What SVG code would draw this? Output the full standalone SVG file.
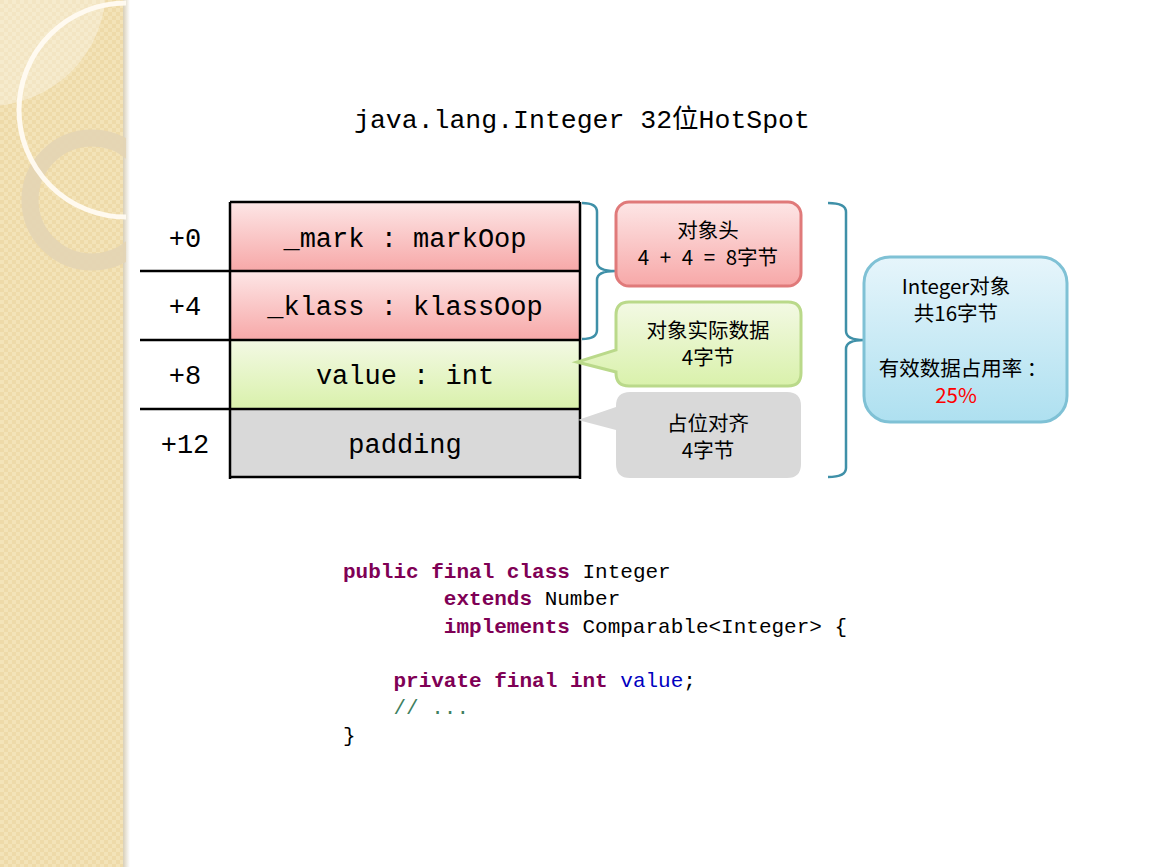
<svg xmlns="http://www.w3.org/2000/svg" width="1158" height="867" viewBox="0 0 1158 867">
<defs>
<pattern id="chk" width="8" height="8" patternUnits="userSpaceOnUse">
<rect width="8" height="8" fill="#f3e3b8"/>
<rect width="4" height="4" fill="#eedaa9"/>
<rect x="4" y="4" width="4" height="4" fill="#eedaa9"/>
</pattern>
<linearGradient id="shadow" x1="0" y1="0" x2="1" y2="0">
<stop offset="0" stop-color="#d8cfb8"/>
<stop offset="1" stop-color="#ffffff"/>
</linearGradient>
<clipPath id="strip"><rect x="0" y="0" width="126" height="867"/></clipPath>
<linearGradient id="gRed" x1="0" y1="0" x2="0" y2="1">
<stop offset="0" stop-color="#fde6e6"/>
<stop offset="1" stop-color="#f7a8a8"/>
</linearGradient>
<linearGradient id="gGreen" x1="0" y1="0" x2="0" y2="1">
<stop offset="0" stop-color="#f3f9e4"/>
<stop offset="1" stop-color="#d9f1ab"/>
</linearGradient>
<linearGradient id="gBlue" x1="0" y1="0" x2="0" y2="1">
<stop offset="0" stop-color="#e6f5fb"/>
<stop offset="1" stop-color="#aee0f0"/>
</linearGradient>
</defs>
<style>
.mono{font-family:"Liberation Mono","DejaVu Sans Mono",monospace;fill:#000}
.cell{font-size:27px;text-anchor:middle}
.cjk{font-family:"Noto Sans CJK SC","Noto Sans",sans-serif;font-size:20.5px;text-anchor:middle;fill:#000}
.tbl{stroke:#000;stroke-width:2.5;fill:none}
.brace{stroke:#3f90a8;stroke-width:2.5;fill:none}
.code{font-family:"Liberation Mono","DejaVu Sans Mono",monospace;font-size:21px;fill:#000;white-space:pre}
.kw{fill:#7f0055;font-weight:bold}
.fld{fill:#0000c0}
.cmt{fill:#3f7f5f}
</style>
<rect width="1158" height="867" fill="#ffffff"/>
<g id="background">
<rect x="0" y="0" width="126" height="867" fill="url(#chk)"/>
<rect x="123" y="0" width="7" height="867" fill="url(#shadow)"/>
<g clip-path="url(#strip)">
<circle cx="-12" cy="-12" r="118" fill="#ffffff" fill-opacity="0.3"/>
<circle cx="92" cy="200" r="62" fill="none" stroke="#e3d4b4" stroke-opacity="0.9" stroke-width="17"/>
<circle cx="126" cy="110" r="107" fill="none" stroke="#fffbf2" stroke-opacity="0.95" stroke-width="5"/>
</g>
</g>
<g id="title">
<text class="mono" x="582" y="128" font-size="26.5" text-anchor="middle">java.lang.Integer 32<tspan font-family="Noto Sans CJK SC,sans-serif">位</tspan>HotSpot</text>
</g>
<g id="table">
<g id="row-mark">
<rect x="230" y="202" width="350" height="69" fill="url(#gRed)"/>
<text class="mono cell" x="405" y="247">_mark : markOop</text>
<text class="mono cell" x="185" y="247">+0</text>
</g>
<g id="row-klass">
<rect x="230" y="271" width="350" height="69" fill="url(#gRed)"/>
<text class="mono cell" x="405" y="315">_klass : klassOop</text>
<text class="mono cell" x="185" y="315">+4</text>
</g>
<g id="row-value">
<rect x="230" y="340" width="350" height="69" fill="url(#gGreen)"/>
<text class="mono cell" x="405" y="384">value : int</text>
<text class="mono cell" x="185" y="384">+8</text>
</g>
<g id="row-padding">
<rect x="230" y="409" width="350" height="68" fill="#d9d9d9"/>
<text class="mono cell" x="405" y="453">padding</text>
<text class="mono cell" x="185" y="453">+12</text>
</g>
<path class="tbl" d="M230,202 H580 M140,271 H580 M140,340 H580 M140,409 H580 M230,477 H580 M230,202 V479 M580,202 V479"/>
</g>
<g id="connectors">
<path class="brace" d="M582,203 Q597,203 597,212 V262 Q597,271 615,271 Q597,271 597,280 V330 Q597,339 582,339"/>
<path class="brace" d="M828,203 Q846,203 846,212 V331 Q846,340 864,340 Q846,340 846,349 V468 Q846,477 828,477"/>
</g>
<g id="callout-header">
<rect x="616" y="202" width="185" height="84" rx="13" fill="url(#gRed)" stroke="#e07a7a" stroke-width="3"/>
<text class="cjk" x="708" y="238">对象头</text>
<text class="cjk" x="708" y="265" word-spacing="6">4 + 4 = 8字节</text>
</g>
<g id="callout-data">
<path d="M629,302 H788 Q801,302 801,315 V373 Q801,386 788,386 H629 Q616,386 616,373 V372 L577,362 L616,350 V315 Q616,302 629,302 Z" fill="url(#gGreen)" stroke="#bad98a" stroke-width="3"/>
<text class="cjk" x="708" y="338">对象实际数据</text>
<text class="cjk" x="708" y="365">4字节</text>
</g>
<g id="callout-padding">
<path d="M630,392 H787 Q801,392 801,406 V464 Q801,478 787,478 H630 Q616,478 616,464 V430 L578,420 L616,407 V406 Q616,392 630,392 Z" fill="#d9d9d9"/>
<text class="cjk" x="708" y="431">占位对齐</text>
<text class="cjk" x="708" y="458">4字节</text>
</g>
<g id="summary">
<rect x="864" y="257" width="203" height="165" rx="26" fill="url(#gBlue)" stroke="#7fc1d5" stroke-width="3"/>
<text class="cjk" x="956" y="294">Integer对象</text>
<text class="cjk" x="956" y="321">共16字节</text>
<text class="cjk" x="963" y="376">有效数据占用率 ：</text>
<text class="cjk" x="956" y="403" style="fill:#ff0000">25%</text>
</g>
<g id="code">
<text class="code" x="343" y="578"><tspan class="kw">public</tspan> <tspan class="kw">final</tspan> <tspan class="kw">class</tspan> Integer</text>
<text class="code" x="343" y="605">        <tspan class="kw">extends</tspan> Number</text>
<text class="code" x="343" y="633">        <tspan class="kw">implements</tspan> Comparable&lt;Integer&gt; {</text>
<text class="code" x="343" y="687">    <tspan class="kw">private</tspan> <tspan class="kw">final</tspan> <tspan class="kw">int</tspan> <tspan class="fld">value</tspan>;</text>
<text class="code" x="343" y="714">    <tspan class="cmt">// ...</tspan></text>
<text class="code" x="343" y="742">}</text>
</g>
</svg>
